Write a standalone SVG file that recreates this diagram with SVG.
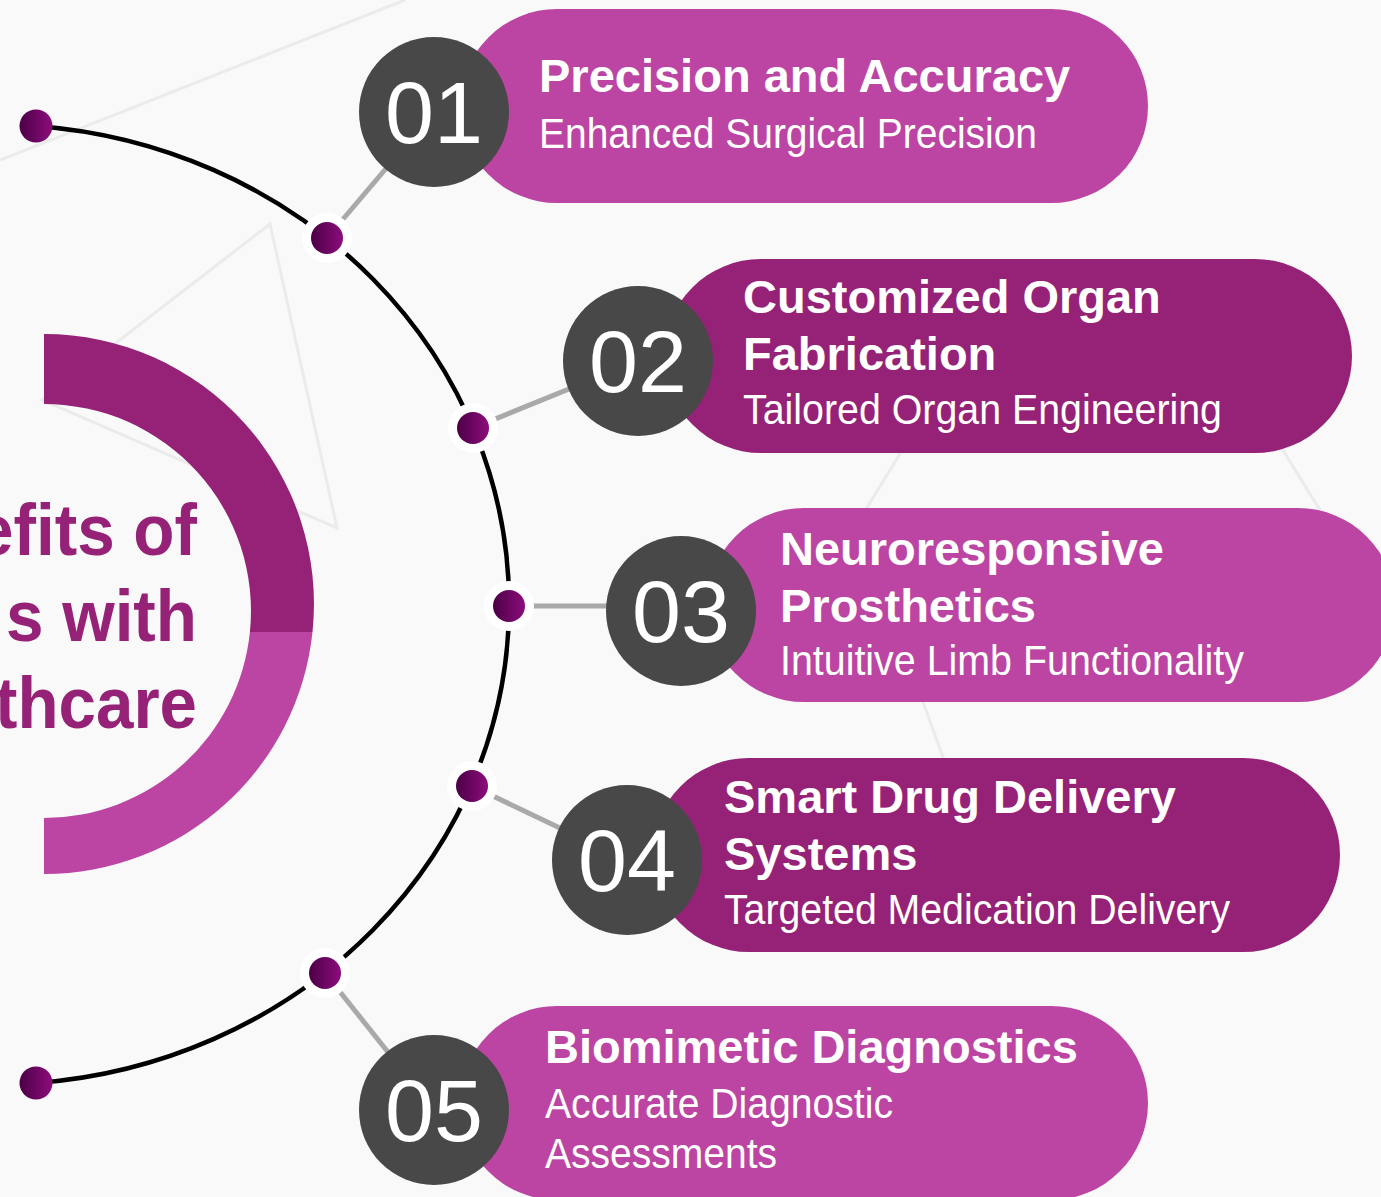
<svg xmlns="http://www.w3.org/2000/svg" width="1381" height="1197" viewBox="0 0 1381 1197">
  <defs>
    <linearGradient id="dotFill" x1="0" y1="0" x2="1" y2="0">
      <stop offset="0" stop-color="#4c0046"/>
      <stop offset="1" stop-color="#8c0c7c"/>
    </linearGradient>
    <style>
      .bgline { fill: none; stroke: #ebebeb; stroke-width: 3; }
      .arc { fill: none; stroke: #000; stroke-width: 4.5; }
      .link { stroke: #a9a9a9; stroke-width: 5; fill: none; }
      .halo { fill: #ffffff; }
      .dot { fill: url(#dotFill); }
      .pill-light { fill: #bc45a3; }
      .pill-dark { fill: #952277; }
      .badge { fill: #484848; }
      .num { font-family: "Liberation Sans", Arial, sans-serif; font-size: 88px; fill: #ffffff; text-anchor: middle; }
      .title { font-family: "Liberation Sans", Arial, sans-serif; font-size: 47px; font-weight: bold; fill: #ffffff; }
      .sub { font-family: "Liberation Sans", Arial, sans-serif; font-size: 42px; fill: #ffffff; }
      .head { font-family: "Liberation Sans", Arial, sans-serif; font-size: 72px; font-weight: bold; fill: #952277; text-anchor: end; }
    </style>
  </defs>

  <!-- backdrop -->
  <rect x="0" y="0" width="1381" height="1197" fill="#f9f9f9"/>
  <g id="backdrop-lines">
    <line class="bgline" x1="0" y1="160" x2="405" y2="0"/>
    <polygon class="bgline" points="270,224 337,528 42,400"/>
    <line class="bgline" x1="835" y1="560" x2="1000" y2="290"/>
    <line class="bgline" x1="1250" y1="397" x2="1320" y2="510"/>
    <line class="bgline" x1="915" y1="680" x2="955" y2="790"/>
  </g>

  <!-- central half ring with heading -->
  <g id="hub">
    <path fill="#952277" d="M44,334 A270,270 0 0 1 312.5,632 L249.9,632 A207,207 0 0 0 44,404 Z"/>
    <path fill="#bc45a3" d="M312.5,632 A270,270 0 0 1 44,874 L44,818 A207,207 0 0 0 249.9,632 Z"/>
    <text class="head" x="197" y="555" textLength="221" lengthAdjust="spacingAndGlyphs">efits of</text>
    <text class="head" x="197" y="641" textLength="191" lengthAdjust="spacingAndGlyphs">s with</text>
    <text class="head" x="197" y="728" textLength="202" lengthAdjust="spacingAndGlyphs">thcare</text>
  </g>

  <!-- connectors -->
  <g id="connectors">
    <path class="arc" d="M35.7,126 A514,480 0 0 1 35.7,1083"/>
    <line class="link" x1="327" y1="238" x2="434" y2="112"/>
    <line class="link" x1="473" y1="428" x2="638" y2="361"/>
    <line class="link" x1="509" y1="606" x2="681" y2="606"/>
    <line class="link" x1="472" y1="786" x2="627" y2="860"/>
    <line class="link" x1="325" y1="973" x2="434" y2="1110"/>
    <circle class="dot" cx="36" cy="126" r="16.5"/>
    <circle class="dot" cx="36" cy="1083" r="16.5"/>
    <circle class="halo" cx="327" cy="238" r="25"/>
    <circle class="dot" cx="327" cy="238" r="16"/>
    <circle class="halo" cx="473" cy="428" r="25"/>
    <circle class="dot" cx="473" cy="428" r="16"/>
    <circle class="halo" cx="509" cy="606" r="25"/>
    <circle class="dot" cx="509" cy="606" r="16"/>
    <circle class="halo" cx="472" cy="786" r="25"/>
    <circle class="dot" cx="472" cy="786" r="16"/>
    <circle class="halo" cx="325" cy="973" r="25"/>
    <circle class="dot" cx="325" cy="973" r="16"/>
  </g>

  <!-- benefit 01 -->
  <g id="node-01">
    <rect class="pill-light" x="460" y="9" width="688" height="194" rx="97" ry="97"/>
    <circle class="badge" cx="434" cy="112" r="75"/>
    <text class="num" x="434" y="143">01</text>
    <text class="title" x="539" y="92">Precision and Accuracy</text>
    <text class="sub" x="539" y="148" textLength="498" lengthAdjust="spacingAndGlyphs">Enhanced Surgical Precision</text>
  </g>

  <!-- benefit 02 -->
  <g id="node-02">
    <rect class="pill-dark" x="664" y="259" width="688" height="194" rx="97" ry="97"/>
    <circle class="badge" cx="638" cy="361" r="75"/>
    <text class="num" x="638" y="392">02</text>
    <text class="title" x="743" y="313">Customized Organ</text>
    <text class="title" x="743" y="370">Fabrication</text>
    <text class="sub" x="743" y="424" textLength="479" lengthAdjust="spacingAndGlyphs">Tailored Organ Engineering</text>
  </g>

  <!-- benefit 03 -->
  <g id="node-03">
    <rect class="pill-light" x="707" y="508" width="688" height="194" rx="97" ry="97"/>
    <circle class="badge" cx="681" cy="611" r="75"/>
    <text class="num" x="681" y="642">03</text>
    <text class="title" x="780" y="565">Neuroresponsive</text>
    <text class="title" x="780" y="622">Prosthetics</text>
    <text class="sub" x="780" y="675" textLength="464" lengthAdjust="spacingAndGlyphs">Intuitive Limb Functionality</text>
  </g>

  <!-- benefit 04 -->
  <g id="node-04">
    <rect class="pill-dark" x="652" y="758" width="688" height="194" rx="97" ry="97"/>
    <circle class="badge" cx="627" cy="860" r="75"/>
    <text class="num" x="627" y="891">04</text>
    <text class="title" x="724" y="813">Smart Drug Delivery</text>
    <text class="title" x="724" y="870">Systems</text>
    <text class="sub" x="724" y="924" textLength="506" lengthAdjust="spacingAndGlyphs">Targeted Medication Delivery</text>
  </g>

  <!-- benefit 05 -->
  <g id="node-05">
    <rect class="pill-light" x="460" y="1006" width="688" height="194" rx="97" ry="97"/>
    <circle class="badge" cx="434" cy="1110" r="75"/>
    <text class="num" x="434" y="1141">05</text>
    <text class="title" x="545" y="1063">Biomimetic Diagnostics</text>
    <text class="sub" x="545" y="1118" textLength="348" lengthAdjust="spacingAndGlyphs">Accurate Diagnostic</text>
    <text class="sub" x="545" y="1168" textLength="232" lengthAdjust="spacingAndGlyphs">Assessments</text>
  </g>
</svg>
